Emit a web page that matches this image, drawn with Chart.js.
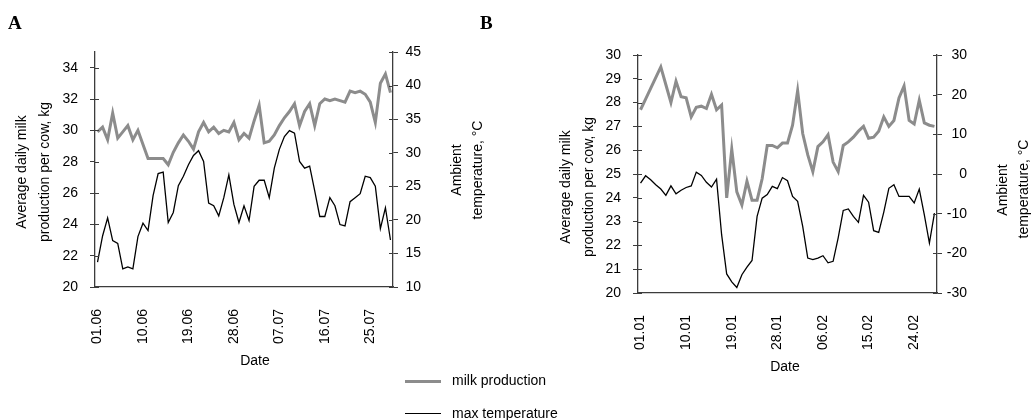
<!DOCTYPE html>
<html>
<head>
<meta charset="utf-8">
<script src="https://cdn.jsdelivr.net/npm/chart.js@4"></script>
<style>
  body { margin: 0; background: #fff; }
  #wrap { position: relative; width: 1031px; height: 420px; overflow: hidden; font-family: "Liberation Sans", Arial, sans-serif; }
  canvas { position: absolute; top: 0; }
  .t { position: absolute; white-space: nowrap; font-size: 14px; color: #000; transform: translate(-50%, -50%) rotate(-90deg); }
  .h { position: absolute; white-space: nowrap; font-size: 14px; color: #000; transform: translate(-50%, -50%); }
  .panel { position: absolute; font-family: "Liberation Serif", "Times New Roman", serif; font-weight: bold; font-size: 19px; }
  .leg { position: absolute; font-size: 14px; white-space: nowrap; }
  .swatch { position: absolute; width: 36px; }
</style>
</head>
<body>
<div id="wrap">
  <canvas id="chartA" width="515" height="420" style="left:0"></canvas>
  <canvas id="chartB" width="515" height="420" style="left:516px"></canvas>

  <div class="panel" style="left:8px;top:12px">A</div>
  <div class="panel" style="left:480px;top:12px">B</div>

  <div class="t" style="left:21px;top:172px">Average daily milk</div>
  <div class="t" style="left:44px;top:172px">production per cow, kg</div>
  <div class="t" style="left:456px;top:170px">Ambient</div>
  <div class="t" style="left:477px;top:170px">temperature, °C</div>
  <div class="h" style="left:255px;top:360px">Date</div>

  <div class="t" style="left:565px;top:187px">Average daily milk</div>
  <div class="t" style="left:588px;top:187px">production per cow, kg</div>
  <div class="t" style="left:1002px;top:190px">Ambient</div>
  <div class="t" style="left:1023px;top:189px">temperature, °C</div>
  <div class="h" style="left:785px;top:366px">Date</div>

  <div class="swatch" style="left:405px;top:380px;height:3px;background:#8c8c8c"></div>
  <div class="leg" style="left:452px;top:372px">milk production</div>
  <div class="swatch" style="left:405px;top:413px;height:1px;background:#000"></div>
  <div class="leg" style="left:452px;top:405px">max temperature</div>
</div>

<script>
// Panel A: 01.06 - 29.07
const datesA = [
  '01.06','02.06','03.06','04.06','05.06','06.06','07.06','08.06','09.06','10.06',
  '11.06','12.06','13.06','14.06','15.06','16.06','17.06','18.06','19.06','20.06',
  '21.06','22.06','23.06','24.06','25.06','26.06','27.06','28.06','29.06','30.06',
  '01.07','02.07','03.07','04.07','05.07','06.07','07.07','08.07','09.07','10.07',
  '11.07','12.07','13.07','14.07','15.07','16.07','17.07','18.07','19.07','20.07',
  '21.07','22.07','23.07','24.07','25.07','26.07','27.07','28.07','29.07'
];
const tickDatesA = ['01.06','10.06','19.06','28.06','07.07','16.07','25.07'];

const milkA = [
  29.9, 30.2, 29.4, 31.1, 29.5, 29.9, 30.3, 29.4, 30.0, 29.1,
  28.2, 28.2, 28.2, 28.2, 27.8, 28.6, 29.2, 29.7, 29.3, 28.8,
  29.9, 30.5, 29.9, 30.2, 29.8, 30.0, 29.9, 30.5, 29.4, 29.8,
  29.5, 30.6, 31.6, 29.2, 29.3, 29.7, 30.3, 30.8, 31.2, 31.7,
  30.3, 31.2, 31.7, 30.3, 31.7, 32.0, 31.9, 32.0, 31.9, 31.8,
  32.5, 32.4, 32.5, 32.3, 31.8, 30.5, 33.0, 33.6, 32.4
];
const tempA = [
  13.7, 17.6, 20.3, 16.9, 16.5, 12.7, 13.0, 12.7, 17.5, 19.5,
  18.4, 23.6, 26.9, 27.1, 19.6, 21.1, 25.1, 26.5, 28.2, 29.6,
  30.3, 28.7, 22.5, 22.1, 20.6, 23.3, 26.7, 22.3, 19.6, 22.1,
  19.9, 25.0, 25.9, 25.9, 23.3, 27.7, 30.5, 32.4, 33.3, 32.9,
  28.7, 27.7, 28.0, 24.3, 20.5, 20.5, 23.3, 22.1, 19.3, 19.1,
  22.7, 23.3, 23.9, 26.5, 26.3, 25.0, 18.7, 21.8, 17.0
];

// Panel B: 01.01 - 28.02
const datesB = [
  '01.01','02.01','03.01','04.01','05.01','06.01','07.01','08.01','09.01','10.01',
  '11.01','12.01','13.01','14.01','15.01','16.01','17.01','18.01','19.01','20.01',
  '21.01','22.01','23.01','24.01','25.01','26.01','27.01','28.01','29.01','30.01',
  '31.01','01.02','02.02','03.02','04.02','05.02','06.02','07.02','08.02','09.02',
  '10.02','11.02','12.02','13.02','14.02','15.02','16.02','17.02','18.02','19.02',
  '20.02','21.02','22.02','23.02','24.02','25.02','26.02','27.02','28.02'
];
const tickDatesB = ['01.01','10.01','19.01','28.01','06.02','15.02','24.02'];

const milkB = [
  27.7, 28.15, 28.6, 29.05, 29.5, 28.75, 28.0, 28.9, 28.25, 28.2,
  27.4, 27.8, 27.85, 27.75, 28.35, 27.7, 27.9, 24.0, 26.05, 24.25,
  23.7, 24.7, 23.9, 23.9, 24.8, 26.2, 26.2, 26.1, 26.3, 26.3,
  27.05, 28.5, 26.7, 25.8, 25.1, 26.15, 26.35, 26.65, 25.5, 25.1,
  26.2, 26.35, 26.55, 26.8, 27.0, 26.5, 26.55, 26.8, 27.4, 27.0,
  27.25, 28.2, 28.7, 27.25, 27.1, 28.1, 27.15, 27.05, 27.0
];
const tempB = [
  -2.3, -0.45, -1.46, -2.7, -3.8, -5.4, -3.0, -5.0, -4.1, -3.4,
  -3.0, 0.47, -0.37, -2.1, -3.3, -1.3, -15.3, -25.2, -27.2, -28.6,
  -25.4, -23.5, -21.8, -10.7, -6.1, -5.2, -3.1, -3.7, -0.9, -1.7,
  -5.65, -6.9, -13.2, -21.2, -21.6, -21.2, -20.6, -22.4, -22.0, -16.1,
  -9.2, -8.8, -10.7, -12.2, -5.4, -7.1, -14.3, -14.7, -9.6, -3.6,
  -2.7, -5.65, -5.65, -5.65, -7.3, -3.8, -10.3, -17.4, -9.85
];

const axisColor = '#3c3c3c';
const tickFont = { family: "'Liberation Sans', Arial, sans-serif", size: 14 };

// tick marks that cross the y axes (inner half)
const innerTicks = {
  id: 'innerTicks',
  afterDraw(chart) {
    const ctx = chart.ctx;
    ctx.save();
    ctx.strokeStyle = axisColor;
    ctx.lineWidth = 1;
    ['y', 'y1'].forEach(id => {
      const s = chart.scales[id];
      const x = id === 'y' ? s.right : s.left;
      const dir = id === 'y' ? 1 : -1;
      s.ticks.forEach(t => {
        const py = Math.round(s.getPixelForValue(t.value)) + 0.5;
        ctx.beginPath();
        ctx.moveTo(x, py);
        ctx.lineTo(x + dir * 4, py);
        ctx.stroke();
      });
    });
    ctx.restore();
  }
};

function makeChart(id, cfg) {
  return new Chart(document.getElementById(id), {
    type: 'line',
    data: {
      labels: cfg.labels,
      datasets: [
        { label: 'milk production', data: cfg.milk, yAxisID: 'y',
          borderColor: '#8c8c8c', borderWidth: 3, pointRadius: 0, tension: 0 },
        { label: 'max temperature', data: cfg.temp, yAxisID: 'y1',
          borderColor: '#000', borderWidth: 1.3, pointRadius: 0, tension: 0 }
      ]
    },
    options: {
      responsive: false,
      animation: false,
      events: [],
      layout: { padding: { top: cfg.top, right: cfg.padRight, left: 0, bottom: 0 } },
      plugins: { legend: { display: false }, tooltip: { enabled: false } },
      scales: {
        x: {
          offset: true,
          grid: { display: false },
          border: { display: true, color: axisColor, width: 1.3 },
          afterFit: s => { s.height = 420 - cfg.bottom; },
          ticks: {
            autoSkip: false, maxRotation: 90, minRotation: 90, padding: cfg.xPad,
            color: '#000', font: tickFont,
            callback: (v, i) => cfg.shown.includes(cfg.labels[i]) ? cfg.labels[i] : ''
          }
        },
        y: {
          position: 'left', min: cfg.yMin, max: cfg.yMax,
          grid: { drawOnChartArea: false, tickLength: 5, color: axisColor },
          border: { display: true, color: axisColor, width: 1.3 },
          afterFit: s => { s.width = cfg.leftW; },
          ticks: { stepSize: cfg.yStep, includeBounds: false, padding: cfg.yPad, color: '#000', font: tickFont }
        },
        y1: {
          position: 'right', min: cfg.y1Min, max: cfg.y1Max,
          grid: { drawOnChartArea: false, tickLength: 5, color: axisColor },
          border: { display: true, color: axisColor, width: 1.3 },
          afterFit: s => { s.width = cfg.rightW; },
          ticks: { stepSize: cfg.y1Step, includeBounds: false, crossAlign: 'far', color: '#000', font: tickFont }
        }
      }
    },
    plugins: [innerTicks]
  });
}

makeChart('chartA', {
  labels: datesA, shown: tickDatesA, milk: milkA, temp: tempA,
  yMin: 20, yMax: 35, yStep: 2, y1Min: 10, y1Max: 45, y1Step: 5,
  top: 52, bottom: 287, leftW: 95, rightW: 28, padRight: 94, xPad: 14, yPad: 12
});

makeChart('chartB', {
  labels: datesB, shown: tickDatesB, milk: milkB, temp: tempB,
  yMin: 20, yMax: 30, yStep: 1, y1Min: -30, y1Max: 30, y1Step: 10,
  top: 55, bottom: 293, leftW: 122, rightW: 30, padRight: 64, xPad: 14, yPad: 12
});
</script>
</body>
</html>
